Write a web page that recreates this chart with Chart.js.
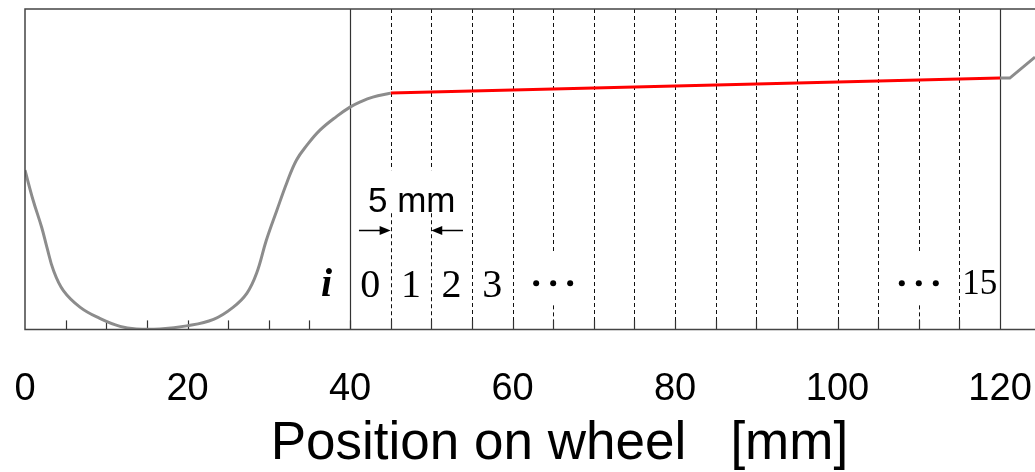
<!DOCTYPE html>
<html><head><meta charset="utf-8">
<script src="https://cdn.jsdelivr.net/npm/chart.js@4/dist/chart.umd.min.js"></script>
<style>html,body{margin:0;padding:0;background:#fff;} canvas{display:block;}</style>
</head><body>
<canvas id="c" width="1035" height="472"></canvas>
<script>
// ---- data (x in mm, y = profile height, arbitrary units) ----
const profileX = [0, 1.0, 2.05, 2.7, 3.5, 4.7, 6.8, 9.2, 11.7, 13.7, 16.6, 19.9, 23.2, 25.6, 27.3, 28.5, 29.7, 31.0, 32.2, 33.4, 34.7, 36.3, 38.4, 40, 41.2, 42.8, 45];
const profileY = [15.9, 12.9, 10.2, 8.2, 5.9, 3.9, 2.2, 1.1, 0.3, 0.05, 0.05, 0.35, 1.0, 2.2, 3.6, 5.6, 8.9, 11.9, 14.6, 16.9, 18.4, 19.9, 21.3, 22.2, 22.7, 23.2, 23.6];
const treadX = [45, 70, 95, 120];
const treadY = [23.6, 24.1, 24.6, 25.1];
const flangeX = [120, 121.2, 124.3];
const flangeY = [25.1, 25.1, 27.2];

const xTickValues = [0, 20, 40, 60, 80, 100, 120];
const minorTicks = [5, 10, 15, 20, 25, 30, 35, 40, 45, 50, 55, 60, 65, 70, 75, 80, 85, 90, 95, 100, 105, 110, 115];
const solidLines = [40, 120];
const dashedLines = [45, 50, 55, 60, 65, 70, 75, 80, 85, 90, 95, 100, 105, 110, 115];
const dashedGaps = {45: [11.6, 15.9], 50: [11.6, 15.9], 65: [2.4, 7.6], 110: [2.4, 7.6]};
const indexLabelX = [42.5, 47.5, 52.5, 57.5, 117.5];
const indexLabelText = ['0', '1', '2', '3', '15'];
const ellipsisX = [65, 110];
const xTitle = '    Position on wheel   [mm]';

const toPts = (xs, ys) => xs.map((x, i) => ({x: x, y: ys[i]}));
const SANS = "'Liberation Sans', Arial, Helvetica, sans-serif";
const SERIF = "'Liberation Serif', 'Times New Roman', serif";

const overlay = {
  id: 'overlay',
  beforeDatasetsDraw(chart) {
    const {ctx, chartArea: a, scales: {x, y}} = chart;
    ctx.save();
    ctx.strokeStyle = '#333'; ctx.lineWidth = 1.2;
    solidLines.forEach(v => {
      const px = Math.round(x.getPixelForValue(v)) + 0.5;
      ctx.beginPath(); ctx.moveTo(px, a.top); ctx.lineTo(px, a.bottom); ctx.stroke();
    });
    ctx.strokeStyle = '#111'; ctx.lineWidth = 1; ctx.setLineDash([4, 3]);
    dashedLines.forEach(v => {
      const px = Math.round(x.getPixelForValue(v)) + 0.5;
      const g = dashedGaps[v];
      ctx.beginPath();
      if (g) {
        ctx.moveTo(px, a.top); ctx.lineTo(px, y.getPixelForValue(g[1]));
        ctx.moveTo(px, y.getPixelForValue(g[0])); ctx.lineTo(px, a.bottom);
      } else {
        ctx.moveTo(px, a.top); ctx.lineTo(px, a.bottom);
      }
      ctx.stroke();
    });
    ctx.setLineDash([]);
    ctx.strokeStyle = '#333'; ctx.lineWidth = 1.2;
    minorTicks.forEach(v => {
      const px = Math.round(x.getPixelForValue(v)) + 0.5;
      ctx.beginPath(); ctx.moveTo(px, a.bottom); ctx.lineTo(px, a.bottom - 9); ctx.stroke();
    });
    ctx.restore();
  },
  afterDatasetsDraw(chart) {
    const {ctx, chartArea: a, scales: {x, y}} = chart;
    ctx.save();
    ctx.strokeStyle = '#444'; ctx.lineWidth = 1.5;
    ctx.beginPath();
    ctx.moveTo(a.right + 2, a.top); ctx.lineTo(a.left, a.top); ctx.lineTo(a.left, a.bottom); ctx.lineTo(a.right + 2, a.bottom);
    ctx.stroke();

    ctx.fillStyle = '#000';
    ctx.textAlign = 'center'; ctx.textBaseline = 'alphabetic';
    ctx.font = '35px ' + SANS;
    ctx.fillText('5 mm', x.getPixelForValue(47.6), y.getPixelForValue(11.7));
    const ay = Math.round(y.getPixelForValue(9.9)) + 0.5;
    const arrow = (fromV, toV) => {
      const x0 = x.getPixelForValue(fromV), x1 = x.getPixelForValue(toV);
      const dir = Math.sign(x1 - x0);
      ctx.strokeStyle = '#000'; ctx.lineWidth = 1.5;
      ctx.beginPath(); ctx.moveTo(x0, ay); ctx.lineTo(x1 - dir * 4, ay); ctx.stroke();
      ctx.beginPath(); ctx.moveTo(x1, ay); ctx.lineTo(x1 - dir * 11, ay - 4.5); ctx.lineTo(x1 - dir * 11, ay + 4.5); ctx.closePath(); ctx.fill();
    };
    arrow(41.1, 45);
    arrow(53.9, 50);
    ctx.font = 'italic bold 40px ' + SERIF;
    ctx.fillText('i', x.getPixelForValue(37.1), y.getPixelForValue(3.3));
    indexLabelText.forEach((t, i) => {
      ctx.font = (t.length > 1 ? '35px ' : '40px ') + SERIF;
      ctx.fillText(t, x.getPixelForValue(indexLabelX[i]), y.getPixelForValue(t.length > 1 ? 3.5 : 3.2));
    });
    ellipsisX.forEach(v => {
      const cx = x.getPixelForValue(v), cy = y.getPixelForValue(4.6);
      [-17, 0, 17].forEach(d => { ctx.beginPath(); ctx.arc(cx + d, cy, 3, 0, Math.PI * 2); ctx.fill(); });
    });
    ctx.restore();
  }
};

new Chart(document.getElementById('c'), {
  type: 'line',
  data: {
    datasets: [
      {data: toPts(profileX, profileY), borderColor: '#8c8c8c', borderWidth: 3, pointRadius: 0, tension: 0.4, fill: false},
      {data: toPts(treadX, treadY), borderColor: '#ff0000', borderWidth: 3, pointRadius: 0, tension: 0, fill: false},
      {data: toPts(flangeX, flangeY), borderColor: '#8c8c8c', borderWidth: 3, pointRadius: 0, tension: 0, fill: false}
    ]
  },
  options: {
    responsive: false,
    animation: false,
    devicePixelRatio: 1,
    layout: {padding: {left: 25, right: 0, top: 9, bottom: 0}},
    plugins: {legend: {display: false}, tooltip: {enabled: false}},
    scales: {
      x: {
        type: 'linear', min: 0, max: 124.3,
        afterBuildTicks: s => { s.ticks = xTickValues.map(v => ({value: v})); },
        afterFit: s => { s.paddingLeft = 0; s.paddingRight = 0; },
        ticks: {font: {family: SANS, size: 38, lineHeight: 1.2}, color: '#000', padding: 37, maxRotation: 0, autoSkip: false},
        grid: {display: false, drawTicks: false, tickLength: 0},
        border: {display: false},
        title: {display: true, text: xTitle, color: '#000', font: {family: SANS, size: 53, lineHeight: 1}, padding: {top: -31, bottom: 1}}
      },
      y: {display: false, min: 0, max: 32}
    }
  },
  plugins: [overlay]
});
</script>
</body></html>
